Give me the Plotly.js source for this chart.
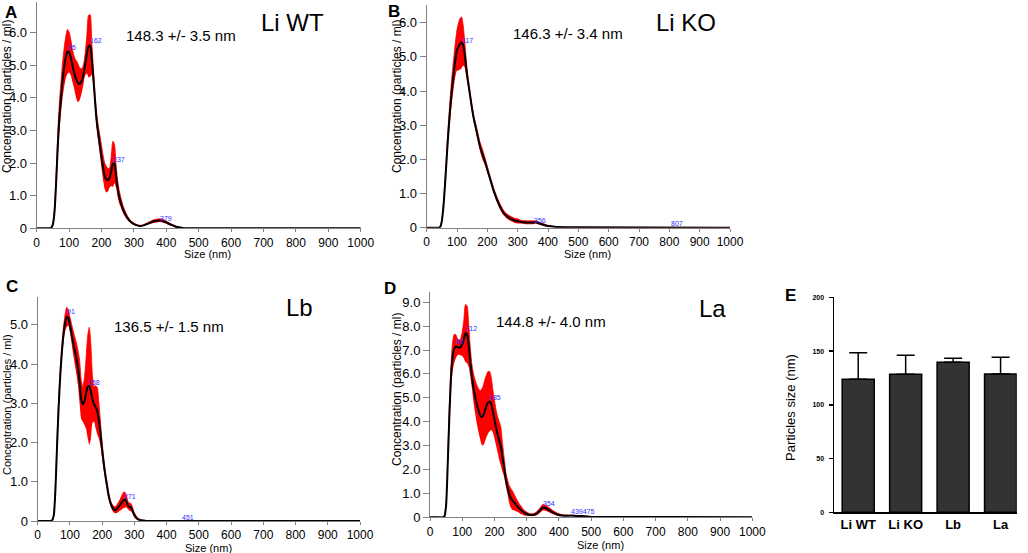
<!DOCTYPE html>
<html>
<head>
<meta charset="utf-8">
<script src="https://cdn.plot.ly/plotly-3.0.1.min.js"></script>
<style>html,body{margin:0;padding:0;background:#fff;}#chart{width:1028px;height:553px;}</style>
</head>
<body>
<div id="chart"></div>
<script>
// ---- Data ----
const sizes = [0,20,
  40,45,50,55,60,65,70,75,80,85,90,95,
  100,105,110,115,120,125,130,135,140,145,150,155,160,165,170,175,180,185,190,195,
  200,205,210,215,220,225,230,235,240,245,250,255,260,265,270,275,280,285,290,295,
  300,
  310,320,330,340,350,360,370,380,390,400,
  410,420,430,440,450,460,470,480,490,500,
  1000];

const liwtMean = [0,0,
  0,0.02,0.12,0.5,1.4,2.5,3.4,4.0,4.55,4.95,5.25,5.42,
  5.4,5.25,5.0,4.8,4.62,4.5,4.43,4.45,4.55,4.75,5.05,5.35,5.58,5.6,5.2,4.6,3.9,3.3,2.9,2.55,
  2.2,1.85,1.6,1.5,1.48,1.55,1.75,1.97,1.98,1.6,1.2,0.95,0.78,0.62,0.5,0.4,0.32,0.25,0.2,0.16,
  0.13,
  0.09,0.07,0.09,0.13,0.17,0.21,0.23,0.24,0.22,0.18,
  0.13,0.09,0.05,0.03,0.01,0,0,0,0,0,
  0];
const liwtErr = [0,0,
  0,0.01,0.05,0.15,0.3,0.4,0.45,0.5,0.55,0.6,0.65,0.68,
  0.62,0.55,0.5,0.5,0.55,0.6,0.55,0.45,0.35,0.3,0.35,0.6,0.95,0.95,0.5,0.3,0.25,0.25,0.25,0.3,
  0.35,0.38,0.4,0.4,0.35,0.3,0.45,0.7,0.6,0.35,0.25,0.2,0.15,0.12,0.1,0.08,0.06,0.05,0.04,0.03,
  0.03,
  0.02,0.02,0.02,0.03,0.04,0.05,0.05,0.05,0.05,0.04,
  0.03,0.02,0.02,0.01,0,0,0,0,0,0,
  0];

const likoMean = [0,0,
  0,0.03,0.2,0.6,1.2,1.9,2.6,3.2,3.75,4.2,4.6,4.95,
  5.2,5.3,5.38,5.42,5.35,5.1,4.7,4.35,4.05,3.75,3.45,3.2,3.0,2.8,2.6,2.4,2.25,2.12,2.0,1.85,
  1.7,1.55,1.4,1.25,1.1,0.98,0.86,0.75,0.65,0.56,0.48,0.42,0.37,0.33,0.3,0.27,0.25,0.23,0.21,0.2,
  0.19,
  0.17,0.16,0.15,0.15,0.15,0.16,0.13,0.1,0.07,0.05,
  0.04,0.03,0.02,0.02,0.01,0.01,0.01,0.01,0.01,0.01,
  0];
const likoErr = [0,0,
  0,0.01,0.05,0.1,0.15,0.2,0.25,0.3,0.35,0.4,0.45,0.5,
  0.6,0.7,0.75,0.75,0.6,0.4,0.25,0.15,0.12,0.1,0.1,0.1,0.1,0.12,0.12,0.13,0.15,0.15,0.12,0.1,
  0.1,0.08,0.08,0.08,0.08,0.08,0.08,0.08,0.08,0.08,0.08,0.07,0.07,0.07,0.07,0.07,0.07,0.07,0.07,0.07,
  0.07,
  0.05,0.05,0.05,0.05,0.05,0.04,0.04,0.03,0.03,0.02,
  0.01,0.01,0.01,0.01,0.01,0,0,0,0,0,
  0];

const lbMean = [0,0,
  0,0.02,0.15,0.8,1.9,2.9,3.7,4.3,4.75,5.05,5.2,5.18,
  5.0,4.78,4.55,4.35,4.15,3.9,3.55,3.1,2.98,3.05,3.25,3.42,3.44,3.3,3.1,2.98,2.9,2.8,2.55,2.2,
  1.8,1.45,1.15,0.9,0.65,0.48,0.37,0.3,0.28,0.3,0.35,0.4,0.46,0.52,0.54,0.5,0.4,0.36,0.34,0.25,
  0.15,
  0.05,0.02,0.01,0,0,0,0,0,0,0,
  0,0,0,0,0,0,0,0,0,0,
  0];
const lbErr = [0,0,
  0,0.01,0.05,0.15,0.2,0.2,0.2,0.2,0.2,0.22,0.25,0.2,
  0.2,0.25,0.3,0.35,0.4,0.45,0.55,0.5,0.45,0.6,0.9,1.3,1.5,1.2,0.6,0.45,0.55,0.6,0.45,0.3,
  0.2,0.15,0.12,0.1,0.08,0.07,0.07,0.08,0.08,0.1,0.12,0.14,0.17,0.2,0.2,0.15,0.1,0.1,0.1,0.08,
  0.06,
  0.03,0.01,0,0,0,0,0,0,0,0,
  0,0,0,0,0,0,0,0,0,0,
  0];

const laMean = [0,0,
  0,0.05,0.5,2.2,4.2,5.8,6.7,7.05,7.15,7.13,7.1,7.12,
  7.25,7.45,7.7,7.65,7.2,6.5,5.9,5.4,5.05,4.75,4.5,4.3,4.2,4.25,4.45,4.65,4.8,4.85,4.75,4.45,
  4.1,3.75,3.45,3.2,2.95,2.5,2.1,1.6,1.3,1.0,0.82,0.72,0.64,0.56,0.48,0.4,0.33,0.27,0.21,0.17,
  0.14,
  0.1,0.1,0.15,0.27,0.41,0.38,0.3,0.22,0.15,0.1,
  0.08,0.07,0.07,0.07,0.06,0.05,0.05,0.04,0.03,0.02,
  0];
const laErr = [0,0,
  0,0.03,0.2,0.4,0.5,0.55,0.6,0.6,0.5,0.35,0.3,0.35,
  0.5,0.8,1.2,1.2,0.9,0.6,0.5,0.6,0.7,0.8,0.9,1.0,1.15,1.25,1.3,1.3,1.3,1.25,1.1,0.9,
  0.8,0.75,0.75,0.8,0.8,0.6,0.4,0.3,0.3,0.35,0.4,0.4,0.35,0.3,0.25,0.2,0.18,0.15,0.12,0.1,
  0.08,
  0.05,0.05,0.07,0.1,0.13,0.12,0.1,0.08,0.06,0.05,
  0.03,0.03,0.02,0.02,0.02,0.02,0.02,0.01,0.01,0.01,
  0];

// Peak labels
const liwtPeaks = [{t:'95',x:108,y:5.54},{t:'162',x:182,y:5.75},{t:'237',x:255,y:2.12},{t:'379',x:398,y:0.31}];
const likoPeaks = [{t:'117',x:135,y:5.49},{t:'356',x:374,y:0.225},{t:'807',x:824,y:0.13}];
const lbPeaks = [{t:'91',x:102,y:5.34},{t:'158',x:176,y:3.53},{t:'271',x:286,y:0.62},{t:'451',x:465,y:0.09}];
const laPeaks = [{t:'83',x:93,y:7.35},{t:'112',x:129,y:7.9},{t:'185',x:202,y:5.02},{t:'354',x:370,y:0.58},{t:'439475',x:474,y:0.26}];

// Panel E
const groups = ['Li WT','Li KO','Lb','La'];
const meanSize = [123.7, 128.4, 139.5, 128.6];
const sdSize = [24.8, 17.6, 3.8, 15.6];

// ---- Build ----
const FONT = 'Liberation Sans, Arial, sans-serif';
const W = 1028, H = 553;
const px = v => v / W;
const py = v => 1 - v / H;

const traces = [];
const annotations = [];

function ntaPanel(mean, err, xa, ya, peaks) {
  const lo = mean.map((m, i) => Math.max(0, m - err[i]));
  const hi = mean.map((m, i) => m + err[i]);
  traces.push({x: sizes, y: lo, xaxis: xa, yaxis: ya, type: 'scatter', mode: 'lines',
    line: {width: 0, color: 'rgba(255,0,0,0)', shape: 'spline', smoothing: 0.6}, hoverinfo: 'skip', showlegend: false});
  traces.push({x: sizes, y: hi, xaxis: xa, yaxis: ya, type: 'scatter', mode: 'lines', fill: 'tonexty',
    fillcolor: '#ff0000', line: {width: 0.8, color: '#ff0000', shape: 'spline', smoothing: 0.6}, hoverinfo: 'skip', showlegend: false});
  traces.push({x: sizes, y: mean, xaxis: xa, yaxis: ya, type: 'scatter', mode: 'lines',
    line: {width: 2, color: '#000000', shape: 'spline', smoothing: 0.6}, showlegend: false});
  peaks.forEach(p => annotations.push({x: p.x, y: p.y, xref: xa, yref: ya, text: p.t, showarrow: false,
    font: {family: FONT, size: 7, color: '#3030ff'}, xanchor: 'center', yanchor: 'middle'}));
}

ntaPanel(liwtMean, liwtErr, 'x', 'y', liwtPeaks);
ntaPanel(likoMean, likoErr, 'x2', 'y2', likoPeaks);
ntaPanel(lbMean, lbErr, 'x3', 'y3', lbPeaks);
ntaPanel(laMean, laErr, 'x4', 'y4', laPeaks);

traces.push({x: groups, y: meanSize, xaxis: 'x5', yaxis: 'y5', type: 'bar',
  marker: {color: '#333333', line: {color: '#000000', width: 1.5}},
  error_y: {type: 'data', symmetric: false, array: sdSize, arrayminus: sdSize.map(() => 0),
    color: '#000000', thickness: 1.5, width: 9},
  showlegend: false});

const xTicks = [0,100,200,300,400,500,600,700,800,900,1000];
function ntaX(d0, d1, anchor) {
  return {domain: [px(d0), px(d1)], anchor: anchor, range: [0, 1000], tickvals: xTicks,
    ticks: 'outside', ticklen: 3, tickcolor: '#808080', showline: true, linecolor: '#808080', linewidth: 1,
    showgrid: false, zeroline: false, tickfont: {family: FONT, size: 12, color: '#000'}, fixedrange: true};
}
function ntaY(top, bottom, maxV, n, anchor) {
  const tv = [], tt = [];
  for (let i = 0; i <= n; i++) { tv.push(i); tt.push(i === 0 ? '0' : i.toFixed(1)); }
  return {domain: [py(bottom), py(top)], anchor: anchor, range: [0, maxV], tickvals: tv, ticktext: tt,
    ticks: 'outside', ticklen: 6, tickcolor: '#808080', showline: true, linecolor: '#808080', linewidth: 1,
    showgrid: false, zeroline: false, ticklabelstandoff: 0, tickfont: {family: FONT, size: 13, color: '#000'}, fixedrange: true};
}

function txt(x, y, t, size, opts) {
  annotations.push(Object.assign({x: px(x), y: py(y), xref: 'paper', yref: 'paper', text: t, showarrow: false,
    xanchor: 'center', yanchor: 'middle', font: {family: FONT, size: size, color: '#000'}}, opts || {}));
}

// Panel letters
txt(11, 12, '<b>A</b>', 17); txt(394, 11, '<b>B</b>', 17);
txt(12, 286, '<b>C</b>', 17); txt(390, 288, '<b>D</b>', 17); txt(790, 295, '<b>E</b>', 17);
// Sample names and sizes
txt(292, 22, 'Li WT', 24); txt(181, 35, '148.3 +/- 3.5 nm', 15);
txt(686, 23, 'Li KO', 24); txt(568, 33, '146.3 +/- 3.4 nm', 15);
txt(299, 307, 'Lb', 24); txt(169, 326, '136.5 +/- 1.5 nm', 15);
txt(712, 308, 'La', 24); txt(551, 321, '144.8 +/- 4.0 nm', 15);
// Axis titles
txt(7, 97, 'Concentration (particles / ml)', 12, {textangle: -90});
txt(397, 97, 'Concentration (particles / ml)', 12, {textangle: -90});
txt(7, 405, 'Concentration (particles / ml)', 11, {textangle: -90});
txt(397, 390, 'Concentration (particles / ml)', 12, {textangle: -90});
txt(207, 254, 'Size (nm)', 11); txt(587, 254, 'Size (nm)', 11);
txt(208, 548, 'Size (nm)', 11); txt(600, 545, 'Size (nm)', 11);
txt(790, 408, 'Particles size (nm)', 13, {textangle: -90});

const layout = {
  width: W, height: H, margin: {l: 0, r: 0, t: 0, b: 0},
  paper_bgcolor: '#ffffff', plot_bgcolor: 'rgba(0,0,0,0)', showlegend: false,
  font: {family: FONT, color: '#000'},
  xaxis: ntaX(36.7, 360.7, 'y'), yaxis: ntaY(2, 228.3, 6.94, 6, 'x'),
  xaxis2: ntaX(426.7, 730, 'y2'), yaxis2: ntaY(5, 227.7, 6.52, 6, 'x2'),
  xaxis3: ntaX(37.7, 360, 'y3'), yaxis3: ntaY(296.7, 521, 5.72, 5, 'x3'),
  xaxis4: ntaX(430, 752.3, 'y4'), yaxis4: ntaY(291.7, 517.3, 9.44, 9, 'x4'),
  xaxis5: {domain: [px(834), px(1016.7)], anchor: 'y5', type: 'category', range: [-0.51, 3.34],
    showline: true, linecolor: '#000', linewidth: 1.5, ticks: '', showgrid: false, zeroline: false,
    tickfont: {family: FONT, size: 13, color: '#000', weight: 'bold'}, fixedrange: true},
  yaxis5: {domain: [py(512.3), py(297.3)], anchor: 'x5', range: [0, 200], tickvals: [0,50,100,150,200],
    ticks: 'outside', ticklen: 4, tickcolor: '#000', tickwidth: 1.5, showline: true, linecolor: '#000', linewidth: 1.5,
    showgrid: false, zeroline: false, ticklabelstandoff: 3,
    tickfont: {family: FONT, size: 7, color: '#000', weight: 'bold'}, fixedrange: true},
  bargap: 0.325,
  annotations: annotations
};

Plotly.newPlot('chart', traces, layout, {staticPlot: true, displayModeBar: false});
</script>
</body>
</html>
